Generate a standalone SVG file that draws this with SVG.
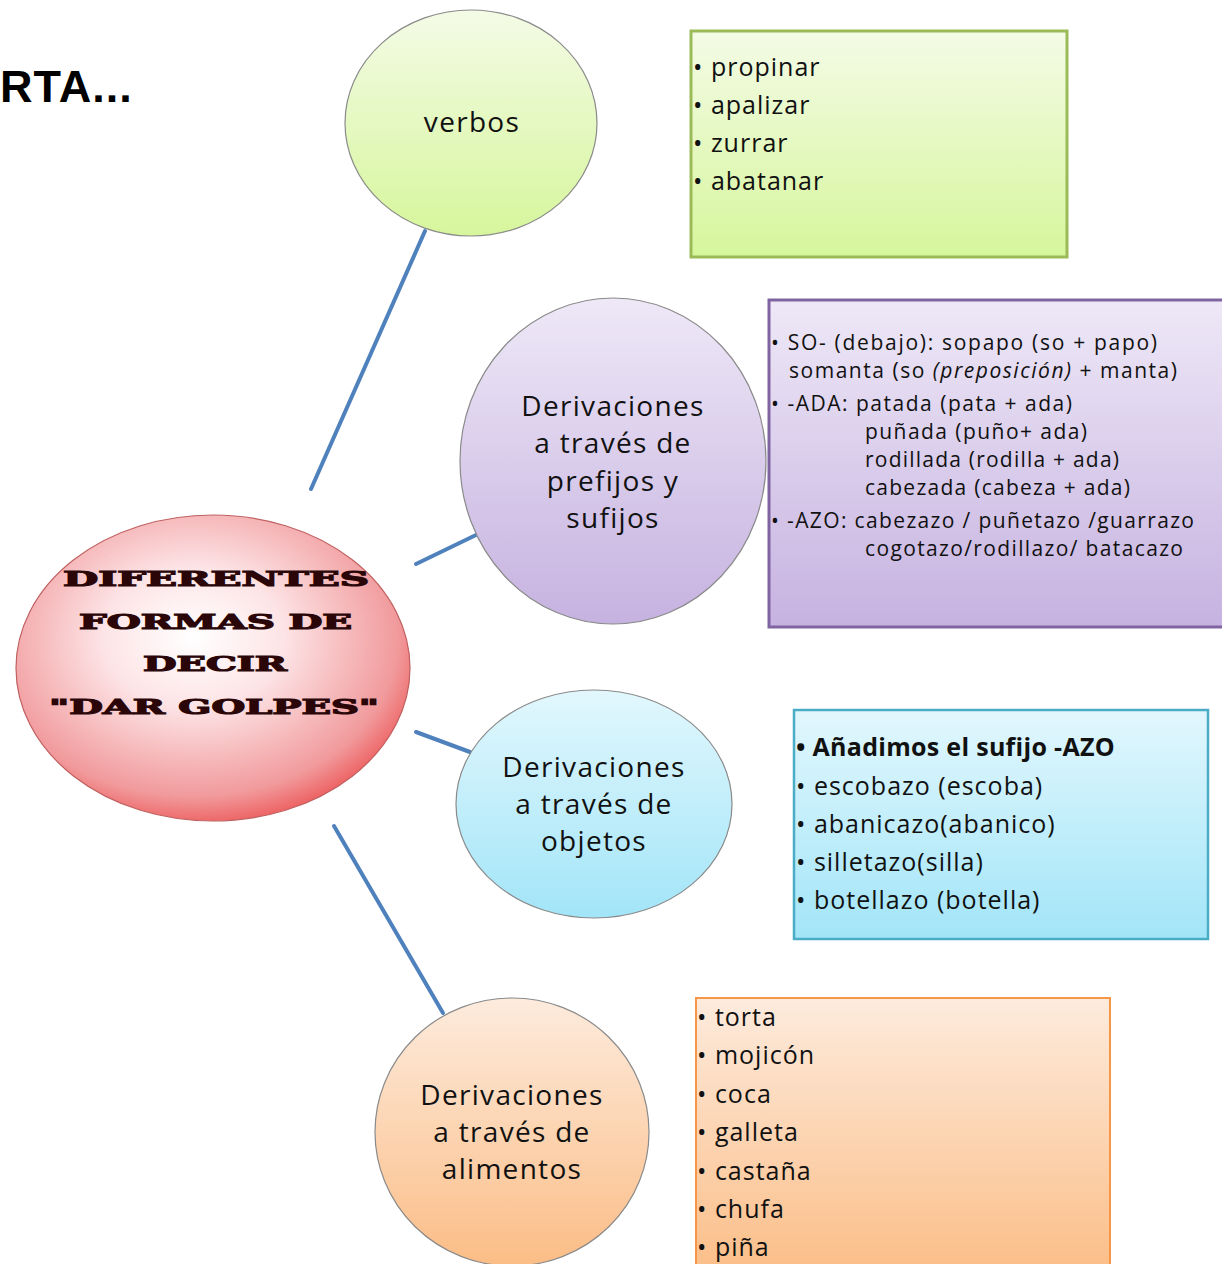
<svg xmlns="http://www.w3.org/2000/svg" width="1222" height="1264" viewBox="0 0 1222 1264">
  <defs>
    <linearGradient id="gGreen" x1="0" y1="0" x2="0" y2="1">
      <stop offset="0" stop-color="#f4fbe6"/>
      <stop offset="1" stop-color="#d6f69c"/>
    </linearGradient>
    <linearGradient id="gPurple" x1="0" y1="0" x2="0" y2="1">
      <stop offset="0" stop-color="#eee8f7"/>
      <stop offset="1" stop-color="#c6b2e0"/>
    </linearGradient>
    <linearGradient id="gBlue" x1="0" y1="0" x2="0" y2="1">
      <stop offset="0" stop-color="#e2f7fd"/>
      <stop offset="1" stop-color="#a2e5f8"/>
    </linearGradient>
    <linearGradient id="gOrange" x1="0" y1="0" x2="0" y2="1">
      <stop offset="0" stop-color="#fdebdd"/>
      <stop offset="1" stop-color="#fbbd86"/>
    </linearGradient>
    <radialGradient id="gRed" cx="0.45" cy="0.4" r="0.65">
      <stop offset="0" stop-color="#ffffff"/>
      <stop offset="0.35" stop-color="#fde4e6"/>
      <stop offset="0.8" stop-color="#f19a9c"/>
      <stop offset="1" stop-color="#ec4c4c"/>
    </radialGradient>
  </defs>
  <style>
    .txt { font-family: "Open Sans", "Noto Sans", sans-serif; fill: #111; }
    .lbl { letter-spacing: 1.3px; }
    .lst { letter-spacing: 1px; }
    .node { stroke: #8a8a8a; stroke-width: 1.2; }
    .edge { stroke: #4f81bd; stroke-width: 4; fill: none; stroke-linecap: round; }
    .title { font-family: "DejaVu Serif", serif; font-weight: 900; font-size: 21px; fill: #2a0608; stroke: #2a0608; stroke-width: 1.2; }
  </style>

  <text x="0" y="102" font-family="Liberation Sans, Arial, sans-serif" font-weight="bold" font-size="45" letter-spacing="1" fill="#000">RTA...</text>

  <g id="connectors">
    <line class="edge" x1="311" y1="489" x2="425" y2="231"/>
    <line class="edge" x1="416" y1="564" x2="476" y2="535"/>
    <line class="edge" x1="416" y1="732" x2="470" y2="752"/>
    <line class="edge" x1="334" y1="826" x2="443" y2="1013"/>
  </g>

  <g id="center">
    <ellipse cx="213" cy="668" rx="197" ry="153" fill="url(#gRed)" stroke="#c06060" stroke-width="1.2"/>
    <text class="title" x="63" y="586" textLength="306" lengthAdjust="spacingAndGlyphs">DIFERENTES</text>
    <text class="title" x="79" y="629" textLength="273" lengthAdjust="spacingAndGlyphs">FORMAS DE</text>
    <text class="title" x="143" y="671" textLength="144" lengthAdjust="spacingAndGlyphs">DECIR</text>
    <text class="title" x="49" y="714" textLength="330" lengthAdjust="spacingAndGlyphs">"DAR GOLPES"</text>
  </g>

  <g id="verbos">
    <ellipse class="node" cx="471" cy="123" rx="126" ry="113" fill="url(#gGreen)"/>
    <text class="txt lbl" x="472" y="132" font-size="28" text-anchor="middle">verbos</text>
  </g>

  <g id="verbos-list">
    <rect x="691" y="31" width="376" height="226" fill="url(#gGreen)" stroke="#9bbb59" stroke-width="3"/>
    <g class="txt lst" font-size="25">
      <text x="693" y="76">• propinar</text>
      <text x="693" y="114">• apalizar</text>
      <text x="693" y="152">• zurrar</text>
      <text x="693" y="190">• abatanar</text>
    </g>
  </g>

  <g id="prefijos">
    <ellipse class="node" cx="613" cy="461" rx="153" ry="163" fill="url(#gPurple)"/>
    <g class="txt lbl" font-size="28" text-anchor="middle">
      <text x="613" y="416">Derivaciones</text>
      <text x="613" y="453">a través de</text>
      <text x="613" y="491">prefijos y</text>
      <text x="613" y="528">sufijos</text>
    </g>
  </g>

  <g id="prefijos-list">
    <rect x="769" y="300" width="460" height="327" fill="url(#gPurple)" stroke="#8064a2" stroke-width="3"/>
    <g class="txt" font-size="21">
      <text x="771" y="350" textLength="386">• SO- (debajo):  sopapo (so + papo)</text>
      <text x="789" y="378" textLength="388">somanta (so <tspan font-style="italic">(preposición)</tspan> + manta)</text>
      <text x="771" y="411" textLength="301">• -ADA: patada (pata + ada)</text>
      <text x="865" y="439" textLength="222">puñada (puño+ ada)</text>
      <text x="865" y="467" textLength="254">rodillada (rodilla + ada)</text>
      <text x="865" y="495" textLength="265">cabezada (cabeza + ada)</text>
      <text x="771" y="528" textLength="423">• -AZO: cabezazo / puñetazo /guarrazo</text>
      <text x="865" y="556" textLength="318">cogotazo/rodillazo/ batacazo</text>
    </g>
  </g>

  <g id="objetos">
    <ellipse class="node" cx="594" cy="804" rx="138" ry="114" fill="url(#gBlue)"/>
    <g class="txt lbl" font-size="28" text-anchor="middle">
      <text x="594" y="777">Derivaciones</text>
      <text x="594" y="814">a través de</text>
      <text x="594" y="851">objetos</text>
    </g>
  </g>

  <g id="objetos-list">
    <rect x="794" y="710" width="414" height="229" fill="url(#gBlue)" stroke="#4bacc6" stroke-width="2.5"/>
    <g class="txt lst" font-size="25">
      <text x="796" y="756" font-weight="bold" letter-spacing="0.3">• Añadimos el sufijo -AZO</text>
      <text x="796" y="795">• escobazo (escoba)</text>
      <text x="796" y="833">• abanicazo(abanico)</text>
      <text x="796" y="871">• silletazo(silla)</text>
      <text x="796" y="909">• botellazo (botella)</text>
    </g>
  </g>

  <g id="alimentos">
    <ellipse class="node" cx="512" cy="1132" rx="137" ry="134" fill="url(#gOrange)"/>
    <g class="txt lbl" font-size="28" text-anchor="middle">
      <text x="512" y="1105">Derivaciones</text>
      <text x="512" y="1142">a través de</text>
      <text x="512" y="1179">alimentos</text>
    </g>
  </g>

  <g id="alimentos-list">
    <rect x="696" y="998" width="414" height="280" fill="url(#gOrange)" stroke="#f79646" stroke-width="2"/>
    <g class="txt lst" font-size="25">
      <text x="697" y="1026">• torta</text>
      <text x="697" y="1064">• mojicón</text>
      <text x="697" y="1103">• coca</text>
      <text x="697" y="1141">• galleta</text>
      <text x="697" y="1180">• castaña</text>
      <text x="697" y="1218">• chufa</text>
      <text x="697" y="1256">• piña</text>
    </g>
  </g>
</svg>
